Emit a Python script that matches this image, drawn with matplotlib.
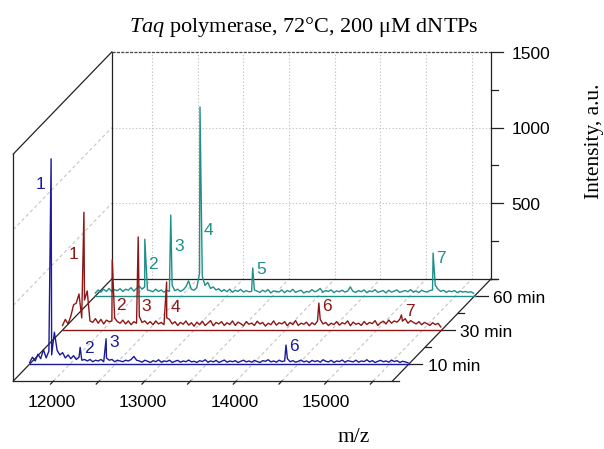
import numpy as np
import matplotlib
matplotlib.use('Agg')
import matplotlib.pyplot as plt

plt.rcParams['mathtext.fontset'] = 'custom'
plt.rcParams['mathtext.rm'] = 'Liberation Serif'
plt.rcParams['mathtext.it'] = 'Liberation Serif:italic'

# ---------------- data ----------------
times = ['10 min', '30 min', '60 min']
colors = ['#1a1a9a', '#8e1616', '#1e8f89']

mz_min, mz_max = 11560, 15710
mz_step = 30  # baseline noise read every 30 Da from mz_min

noise_10 = [10, 45, 20, 65, 35, 95, 40, 85, 60, 210,
            90, 60, 75, 40, 60, 35, 55, 30, 45, 25,
            30, 20, 30, 15, 25, 20, 30, 15, 40, 25,
            30, 15, 25, 20, 15, 25, 20, 30, 50, 25,
            20, 12, 25, 18, 10, 22, 15, 28, 12, 20,
            16, 25, 10, 18, 24, 12, 20, 15, 26, 14,
            18, 10, 22, 16, 28, 12, 20, 14, 24, 10,
            18, 26, 12, 20, 15, 22, 10, 18, 25, 14,
            20, 12, 24, 16, 10, 22, 18, 28, 14, 20,
            12, 25, 16, 20, 35, 15, 22, 12, 18, 26,
            14, 20, 10, 24, 16, 22, 12, 28, 18, 14,
            24, 10, 20, 16, 26, 12, 22, 18, 14, 25,
            12, 20, 16, 28, 14, 22, 10, 18, 24, 15,
            20, 12, 26, 16, 22, 10, 18, 14, 8]

noise_30 = [30, 70, 40, 90, 165, 178, 238, 80, 198, 258,
            60, 50, 75, 45, 70, 40, 65, 55, 60, 80,
            55, 45, 65, 40, 60, 35, 55, 45, 90, 50,
            60, 40, 55, 35, 60, 40, 50, 35, 80, 70,
            40, 55, 30, 50, 38, 60, 32, 48, 25, 52,
            35, 58, 30, 45, 62, 28, 50, 40, 55, 30,
            48, 36, 60, 30, 52, 42, 28, 55, 38, 46,
            30, 58, 40, 50, 26, 45, 35, 60, 32, 48,
            40, 55, 28, 50, 36, 62, 30, 45, 38, 52,
            28, 48, 35, 58, 70, 40, 50, 30, 45, 36,
            55, 32, 48, 40, 60, 28, 52, 38, 45, 30,
            56, 36, 50, 42, 62, 30, 48, 58, 40, 66,
            45, 60, 52, 70, 58, 75, 45, 62, 50, 40,
            55, 35, 50, 42, 30, 48, 36, 44, 20]

noise_60 = [20, 40, 25, 45, 30, 50, 28, 42, 35, 48,
            30, 45, 38, 55, 32, 50, 65, 45, 60, 40,
            35, 28, 45, 30, 40, 25, 38, 30, 70, 35,
            45, 30, 40, 60, 100, 45, 38, 55, 150, 130,
            70, 90, 50, 60, 40, 48, 30, 42, 28, 45,
            25, 38, 30, 44, 26, 35, 28, 30, 40, 32,
            24, 38, 28, 42, 20, 34, 30, 26, 40, 22,
            36, 28, 44, 24, 32, 38, 20, 30, 26, 42,
            28, 34, 50, 24, 36, 30, 40, 22, 34, 28,
            38, 26, 32, 60, 30, 24, 36, 28, 40, 22,
            34, 28, 42, 24, 30, 36, 20, 38, 26, 32,
            40, 24, 30, 36, 28, 42, 26, 34, 22, 38,
            30, 26, 36, 40, 70, 45, 30, 38, 24, 34,
            28, 36, 22, 32, 26, 30, 24, 28, 18]

# labelled peaks: m/z, height, number, height of the number label
peaks_10 = [11794, 12112, 12396, 14365]
heights_10 = [1356, 110, 166, 125]
names_10 = ['1', '2', '3', '6']
labely_10 = [1188, 104, 145, 117]

peaks_30 = [11794, 12104, 12388, 12699, 14365, 15269]
heights_30 = [778, 463, 615, 317, 178, 100]
names_30 = ['1', '2', '3', '4', '6', '7']
labely_30 = [500, 163, 152, 150, 152, 119]

peaks_60 = [12101, 12385, 12705, 13282, 15256]
heights_60 = [375, 535, 1249, 185, 284]
names_60 = ['2', '3', '4', '5', '7']
labely_60 = [205, 324, 436, 172, 251]

mz_ticks = [12000, 12500, 13000, 13500, 14000, 14500, 15000, 15500]
mz_labels = ['12000', '', '13000', '', '14000', '', '15000', '']
int_major = [500, 1000, 1500]
int_minor = [0, 250, 750, 1250]
depth_major = [0.5, 1.5, 2.5]
depth_minor = [0, 1, 2, 3]

# ---------------- oblique projection ----------------
NDEPTH = 3
DX = 359.3   # m/z shift per depth step
DY = 224.7   # intensity shift per depth step
PX = 379.2 / (mz_max - mz_min)  # pixels per m/z unit on the front plane


def proj(mz, inten, depth):
    return np.asarray(mz, float) + np.asarray(depth, float) * DX, \
        np.asarray(inten, float) + np.asarray(depth, float) * DY


W, H = 604, 449
fig = plt.figure(figsize=(6.04, 4.49), dpi=100)
ax = fig.add_axes([13.3 / W, (H - 381) / H, 379.2 / W, 227 / H])
ax.set_xlim(mz_min, mz_max)
ax.set_ylim(0, 1500)
ax.set_axis_off()


def line3(ms, Is, ds, **kw):
    x, y = proj(ms, Is, ds)
    kw.setdefault('clip_on', False)
    ax.plot(x, y, **kw)


grid_kw = dict(color='#c4c4c4', lw=0.8, zorder=1)
dot = (0, (1.2, 1.8))
dash = (0, (3, 2.5))

# back wall grid
for m in mz_ticks:
    line3([m, m], [0, 1500], [NDEPTH, NDEPTH], ls=dot, **grid_kw)
    line3([m, m], [0, 0], [0, NDEPTH], ls=dash, **grid_kw)
for v in [500, 1000]:
    line3([mz_min, mz_max], [v, v], [NDEPTH, NDEPTH], ls=dot, **grid_kw)
    line3([mz_min, mz_min], [v, v], [0, NDEPTH], ls=dash, **grid_kw)

# box edges
edge_kw = dict(color='#222222', lw=0.9, zorder=2)
line3([mz_min, mz_min], [0, 1500], [0, 0], **edge_kw)
line3([mz_min, mz_max], [0, 0], [0, 0], **edge_kw)
line3([mz_min, mz_min], [1500, 1500], [0, NDEPTH], **edge_kw)
line3([mz_min, mz_min], [0, 0], [0, NDEPTH], **edge_kw)
line3([mz_max, mz_max], [0, 0], [0, NDEPTH], **edge_kw)
line3([mz_min, mz_min], [0, 1500], [NDEPTH, NDEPTH], **edge_kw)
line3([mz_min, mz_max], [0, 0], [NDEPTH, NDEPTH], **edge_kw)
line3([mz_max, mz_max], [0, 1500], [NDEPTH, NDEPTH], **edge_kw)
line3([mz_min, mz_max], [1500, 1500], [NDEPTH, NDEPTH], color='#444444',
      lw=0.9, ls=(0, (2.5, 1)), zorder=2)

sans = 'Liberation Sans'
serif = 'Liberation Serif'
fs = 12.5

# m/z ticks on the front edge (slanted towards the viewer)
for m, lab in zip(mz_ticks, mz_labels):
    line3([m, m], [0, 0], [0, -0.09], **edge_kw)
    if lab:
        x, y = proj(m, 0, 0)
        ax.annotate(lab, (x, y), xytext=(-1.2, -18.7), textcoords='offset points',
                    ha='center', va='baseline', fontsize=fs, family=sans,
                    annotation_clip=False)

# intensity axis on the back right edge
for v in int_major + int_minor:
    n = 12.5 if v in int_major else 7
    line3([mz_max, mz_max + n / PX], [v, v], [NDEPTH, NDEPTH], **edge_kw)
for v in int_major:
    x, y = proj(mz_max, v, NDEPTH)
    ax.annotate(str(v), (x, y), xytext=(14.5, -4.75), textcoords='offset points',
                ha='left', va='baseline', fontsize=fs, family=sans,
                annotation_clip=False)

# time axis on the right floor edge
for d in depth_major + depth_minor:
    n = 13 if d in depth_major else 6
    line3([mz_max, mz_max + n / PX], [0, 0], [d, d], **edge_kw)
for d, lab in zip(depth_major, times):
    x, y = proj(mz_max, 0, d)
    ax.annotate(lab, (x, y), xytext=(13.5, -4.8), textcoords='offset points',
                ha='left', va='baseline', fontsize=fs, family=sans,
                annotation_clip=False)

# spectra, back to front
traces = [
    (noise_60, peaks_60, heights_60, names_60, labely_60, 2.5, colors[2]),
    (noise_30, peaks_30, heights_30, names_30, labely_30, 1.5, colors[1]),
    (noise_10, peaks_10, heights_10, names_10, labely_10, 0.5, colors[0]),
]
for noise, pk, ph, names, ly, d, c in traces:
    grid = mz_min + mz_step * np.arange(len(noise))
    mz = np.concatenate([grid, pk])
    inten = np.concatenate([noise, ph])
    order = np.argsort(mz, kind='stable')
    line3([mz_min, mz_max], [0, 0], [d, d], color=c, lw=1.0, zorder=3)
    line3(mz[order], inten[order], np.full(len(mz), d), color=c, lw=1.0, zorder=4)
    for m, name, yl in zip(pk, names, ly):
        x, y = proj(m, yl, d)
        dx = -7.4 if name == '1' else 6.0
        ax.annotate(name, (x, y), xytext=(dx, 0), textcoords='offset points',
                    ha='center', va='center', fontsize=fs, family=sans, color=c,
                    annotation_clip=False, zorder=5)

# titles
fig.text(304 / W, 1 - 32 / H, r'$\it{Taq}$ polymerase, 72°C, 200 μM dNTPs',
         ha='center', va='baseline', fontsize=16, family=serif)
fig.text(594 / W, 1 - 141.5 / H, 'Intensity, a.u.', rotation=90,
         ha='center', va='center', fontsize=15.5, family=serif)
fig.text(354 / W, 1 - 438 / H, 'm/z', ha='center', va='center',
         fontsize=15.5, family=serif)

fig.savefig('out.png', dpi=100)
